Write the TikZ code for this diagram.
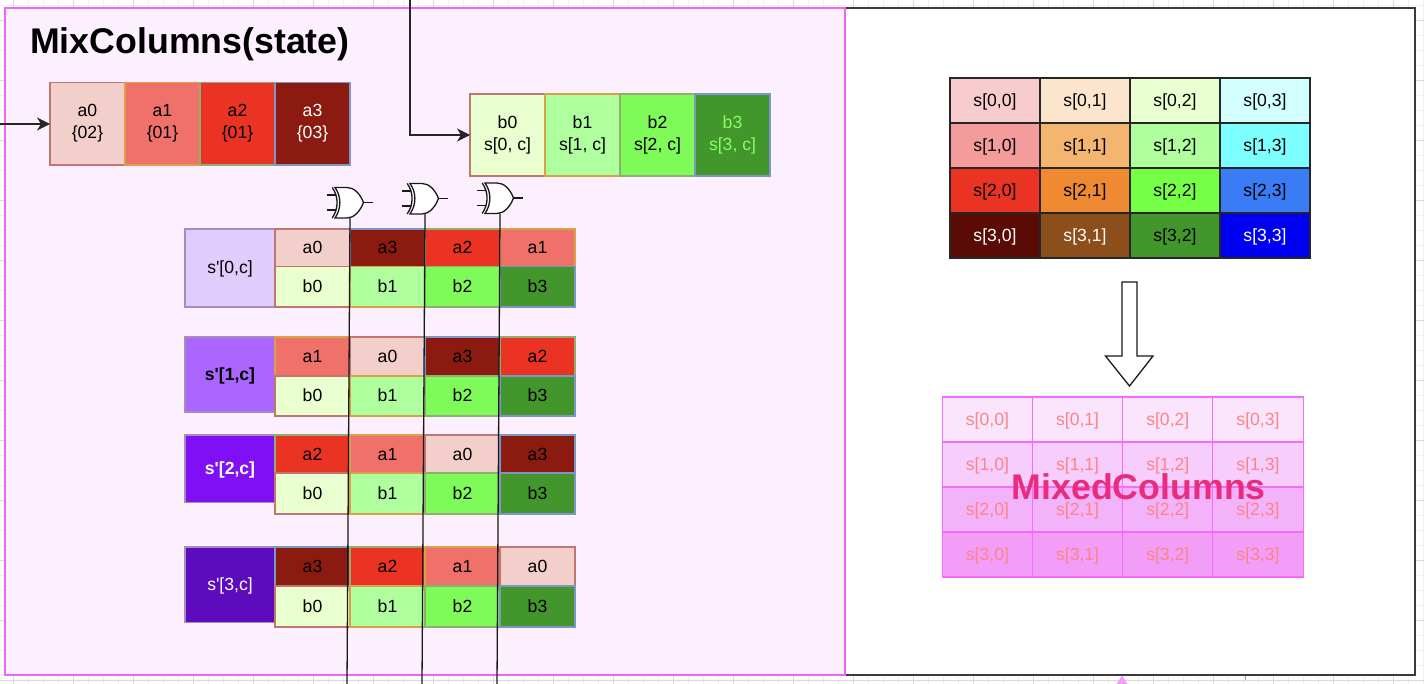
\documentclass[tikz,border=0pt]{standalone}
\usepackage{fontspec}
\setmainfont{Liberation Sans}
\usetikzlibrary{arrows.meta}
\definecolor{panelfill}{HTML}{FCF0FF}
\definecolor{panelline}{HTML}{EE66F5}
\definecolor{framedark}{HTML}{3A3A3A}
\definecolor{majorgrid}{HTML}{D9D9D9}
\definecolor{minorgrid}{HTML}{F0F0F0}
\definecolor{edgeA}{HTML}{BF7570}
\definecolor{edgeB}{HTML}{D9A24A}
\definecolor{edgeC}{HTML}{8FAE6F}
\definecolor{edgeD}{HTML}{7E96C2}
\definecolor{edgeP}{HTML}{A98BBA}
\definecolor{fillAa}{HTML}{F2CFCB}
\definecolor{fillAb}{HTML}{EF716A}
\definecolor{fillAc}{HTML}{EB3323}
\definecolor{fillAd}{HTML}{8B1A10}
\definecolor{fillBa}{HTML}{E9FFCF}
\definecolor{fillBb}{HTML}{AFFF9E}
\definecolor{fillBc}{HTML}{7EFB58}
\definecolor{fillBd}{HTML}{42962B}
\definecolor{lightgreen}{HTML}{86FF66}
\definecolor{fillPa}{HTML}{E1CDFC}
\definecolor{fillPb}{HTML}{AA66FF}
\definecolor{fillPc}{HTML}{7F0FF5}
\definecolor{fillPd}{HTML}{5C0BBD}
\definecolor{mixline}{HTML}{F66BFF}
\definecolor{mixtext}{HTML}{FB8585}
\definecolor{mixtitle}{HTML}{E92C7E}
\definecolor{mixa}{HTML}{FAE5FD}
\definecolor{mixb}{HTML}{F7CDFB}
\definecolor{mixc}{HTML}{F3B3FA}
\definecolor{mixd}{HTML}{F29DF8}
\definecolor{sa}{HTML}{F8CCCF}\definecolor{sb}{HTML}{FCE5CD}\definecolor{sc}{HTML}{E9FFCF}\definecolor{sd}{HTML}{D3FFFF}
\definecolor{se}{HTML}{F49C9C}\definecolor{sf}{HTML}{F4B570}\definecolor{sg}{HTML}{AFFF9E}\definecolor{sh}{HTML}{7DFFFF}
\definecolor{si}{HTML}{EB3323}\definecolor{sj}{HTML}{F08A32}\definecolor{sk}{HTML}{75FF45}\definecolor{sl}{HTML}{3A7CF5}
\definecolor{sm}{HTML}{5A0B05}\definecolor{sn}{HTML}{8C4F1B}\definecolor{so}{HTML}{42962B}\definecolor{sp}{HTML}{0000F0}
\tikzset{
  x=1pt,y=-1pt,
  txt/.style={font=\fontsize{17.6}{22}\selectfont,align=center,execute at begin node={\rule[-4pt]{0pt}{20pt}}},
  cell/.style={txt,draw,line width=1.4pt,inner sep=0pt,outer sep=0pt,anchor=north west},
  ca0/.style={cell,fill=fillAa,draw=edgeA},
  ca1/.style={cell,fill=fillAb,draw=edgeB},
  ca2/.style={cell,fill=fillAc,draw=edgeC},
  ca3/.style={cell,fill=fillAd,draw=edgeD},
  cb0/.style={cell,fill=fillBa,draw=edgeA},
  cb1/.style={cell,fill=fillBb,draw=edgeB},
  cb2/.style={cell,fill=fillBc,draw=edgeC},
  cb3/.style={cell,fill=fillBd,draw=edgeD},
  rowlabel/.style={cell,draw=edgeP,minimum width=90pt},
  scell/.style={cell,draw=black!85,line width=1.1pt,minimum width=90pt,minimum height=45pt},
  mcell/.style={cell,draw=mixline,line width=1.1pt,text=mixtext,minimum width=90.2pt,minimum height=45pt},
  title/.style={font=\fontsize{35.7}{40}\selectfont\bfseries,inner sep=0pt},
  flow/.style={draw=black!85,line width=1.3pt,-{Stealth[length=13pt,width=13pt,inset=4pt]}},
  wire/.style={draw=black!90,line width=1.3pt},
  gridmajor/.style={draw=majorgrid,line width=.8pt},
  gridminor/.style={draw=minorgrid,line width=.8pt},
  xorgate/.pic={
    \draw[wire] (-23,-7.5) -- (-14.5,-7.5) (-23,7.5) -- (-14.5,7.5) (13.5,0) -- (23,0);
    \draw[wire,fill=white] (-15,-15) -- (-3,-15) .. controls (4,-15) and (10,-9) .. (13.5,0)
       .. controls (10,9) and (4,15.5) .. (-3,15.5) -- (-15,15.5)
       .. controls (-8.5,6) and (-8.5,-6) .. (-15,-15) -- cycle;
    \draw[wire] (-17.8,-15) .. controls (-11.3,-6) and (-11.3,6) .. (-17.8,15.5);
    \coordinate (-bottom) at (0,15.5);
  },
}
\newcommand{\cellrow}[4]{%
  % #1 row name, #2 y top, #3 height a, #4 height b; a-order follows via \cellorder
  \foreach \nm/\sty/\tx [count=\k from 0] in \cellorder {
    \node[\sty,minimum width=75pt,minimum height=#3pt] (#1\nm) at ({275+75*\k},#2) {\tx};
  }
  \foreach \nm/\sty/\tx [count=\k from 0] in {b0/cb0/b0,b1/cb1/b1,b2/cb2/b2,b3/cb3/b3} {
    \node[\sty,minimum width=75pt,minimum height=#4pt] (#1\nm) at ({275+75*\k},{#2+#3}) {\tx};
  }
}
\begin{document}
\begin{tikzpicture}
\useasboundingbox (0,0) rectangle (1424,684);
\fill[white] (0,0) rectangle (1424,684);
% page grid
\foreach \i in {0,...,95} {\draw[gridminor] ({-2+15*\i},0) -- ({-2+15*\i},684);}
\foreach \i in {0,...,46} {\draw[gridminor] (0,{5+15*\i}) -- (1424,{5+15*\i});}
\foreach \i in {0,...,23} {\draw[gridmajor] ({13+60*\i},0) -- ({13+60*\i},684);}
\foreach \i in {0,...,11} {\draw[gridmajor] (0,{20+60*\i}) -- (1424,{20+60*\i});}
% frames
\node[draw=framedark,fill=white,line width=1.6pt,inner sep=0pt,outer sep=0pt,anchor=north west,minimum width=570pt,minimum height=667pt] (rightframe) at (845,8) {};
\node[draw=panelline,fill=panelfill,line width=1.5pt,inner sep=0pt,outer sep=0pt,anchor=north west,minimum width=840pt,minimum height=667pt] (leftframe) at (5,8) {};
\fill[mixd] (1116.5,684) -- (1122,675.5) -- (1127.5,684) -- cycle;
\draw[majorgrid!70!black,line width=.8pt] (1245,676) -- (1245,680);
% title
\node[title,anchor=base west] (maintitle) at (30,53.3) {MixColumns(state)};
% a word
\node[ca0,minimum width=75pt,minimum height=82.5pt] (a0) at (50,82.5) {a0\\\{02\}};
\node[ca1,minimum width=75pt,minimum height=82.5pt] (a1) at (125,82.5) {a1\\\{01\}};
\node[ca2,minimum width=75pt,minimum height=82.5pt] (a2) at (200,82.5) {a2\\\{01\}};
\node[ca3,minimum width=75pt,minimum height=82.5pt,text=white] (a3) at (275,82.5) {a3\\\{03\}};
% b word
\node[cb0,minimum width=75pt,minimum height=82pt] (b0) at (470,94) {b0\\s[0, c]};
\node[cb1,minimum width=75pt,minimum height=82pt] (b1) at (545,94) {b1\\s[1, c]};
\node[cb2,minimum width=75pt,minimum height=82pt] (b2) at (620,94) {b2\\s[2, c]};
\node[cb3,minimum width=75pt,minimum height=82pt,text=lightgreen] (b3) at (695,94) {b3\\s[3, c]};
% inputs
\coordinate (leftin) at (0,124);
\coordinate (topin) at (410,0);
\draw[flow] (leftin) -- (a0.west |- leftin);
\draw[flow] (topin) |- (b0.west);
% row tables
\node[rowlabel,fill=fillPa,minimum height=78pt] (s0) at (185,229) {s\textquotesingle[0,c]};
\def\cellorder{a0/ca0/a0,a3/ca3/a3,a2/ca2/a2,a1/ca1/a1}
\cellrow{r0}{229}{37.5}{40.5}
\node[rowlabel,fill=fillPb,minimum height=75pt,font=\fontsize{17.6}{22}\selectfont\bfseries] (s1) at (185,337) {s\textquotesingle[1,c]};
\def\cellorder{a1/ca1/a1,a0/ca0/a0,a3/ca3/a3,a2/ca2/a2}
\cellrow{r1}{337}{39}{40}
\node[rowlabel,fill=fillPc,text=white,minimum height=67.5pt,font=\fontsize{17.6}{22}\selectfont\bfseries] (s2) at (185,435) {s\textquotesingle[2,c]};
\def\cellorder{a2/ca2/a2,a1/ca1/a1,a0/ca0/a0,a3/ca3/a3}
\cellrow{r2}{435}{38}{41}
\node[rowlabel,fill=fillPd,text=white,minimum height=75.5pt] (s3) at (185,547) {s\textquotesingle[3,c]};
\def\cellorder{a3/ca3/a3,a2/ca2/a2,a1/ca1/a1,a0/ca0/a0}
\cellrow{r3}{547}{39}{41}
% XOR gates and their wires
\pic (g1) at (350,202.5) {xorgate};
\pic (g2) at (425,198.5) {xorgate};
\pic (g3) at (500,198) {xorgate};
\coordinate (w1) at (347,684);
\coordinate (w2) at (422,684);
\coordinate (w3) at (497,684);
\draw[wire] (g1-bottom) -- (w1);
\draw[wire] (g2-bottom) -- (w2);
\draw[wire] (g3-bottom) -- (w3);
% state grid
\foreach \r/\cola/\colb/\colc/\cold/\tc [count=\ri from 0] in {0/sa/sb/sc/sd/black,1/se/sf/sg/sh/black,2/si/sj/sk/sl/black,3/sm/sn/so/sp/white} {
  \node[scell,fill=\cola,text=\tc] (s\r c0) at (950,{78+45*\ri}) {s[\r,0]};
  \node[scell,fill=\colb,text=\tc] (s\r c1) at (1040,{78+45*\ri}) {s[\r,1]};
  \ifnum\r=3
    \node[scell,fill=\colc,text=black] (s\r c2) at (1130,{78+45*\ri}) {s[\r,2]};
  \else
    \node[scell,fill=\colc,text=\tc] (s\r c2) at (1130,{78+45*\ri}) {s[\r,2]};
  \fi
  \node[scell,fill=\cold,text=\tc] (s\r c3) at (1220,{78+45*\ri}) {s[\r,3]};
}
% block arrow
\draw[line width=1.3pt,draw=black!90,fill=white] (1122,282) -- (1137,282) -- (1137,356) -- (1153,356) -- (1129.5,386) -- (1105.5,356) -- (1122,356) -- cycle;
% mixed grid
\foreach \r/\colr [count=\ri from 0] in {0/mixa,1/mixb,2/mixc,3/mixd} {
  \foreach \c in {0,1,2,3} {
    \node[mcell,fill=\colr] (m\r c\c) at ({942.3+90.2*\c},{397+45*\ri}) {s[\r,\c]};
  }
}
\node[title,text=mixtitle,anchor=base] (mixedlabel) at (1138.7,499.3) {MixedColumns};
\end{tikzpicture}
\end{document}
